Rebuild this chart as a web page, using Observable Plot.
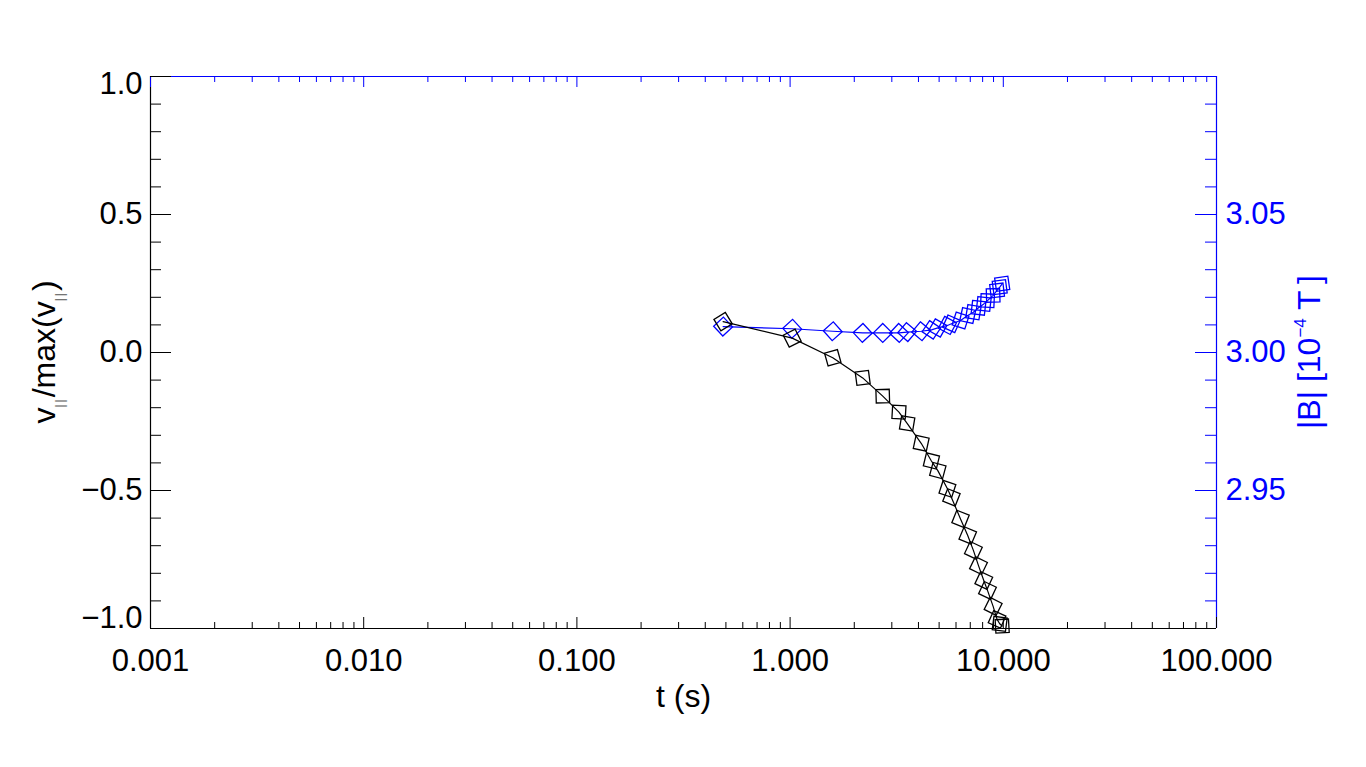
<!DOCTYPE html>
<html><head><meta charset="utf-8">
<script src="https://cdn.jsdelivr.net/npm/d3@7"></script>
<script src="https://cdn.jsdelivr.net/npm/@observablehq/plot@0.6"></script>
<style>
body{margin:0;background:#fff;}
svg{display:block;}
</style>
</head><body><div id="chart"></div>
<script>
// ---- data ----
const tValues = [0.485, 1.023, 1.585, 2.19, 2.72, 3.24, 3.54, 4.12, 4.60, 4.93, 5.47, 5.71, 6.30, 6.81, 7.24, 7.65, 8.10, 8.43, 8.96, 9.35, 9.62, 9.88];
const vRatio  = [0.112, 0.052, -0.019, -0.092, -0.158, -0.216, -0.257, -0.329, -0.393, -0.428, -0.494, -0.525, -0.603, -0.663, -0.717, -0.772, -0.826, -0.862, -0.920, -0.967, -0.983, -0.991];
const bField  = [3.0094, 3.0086, 3.0077, 3.0071, 3.0071, 3.0071, 3.0074, 3.0077, 3.0082, 3.0089, 3.0098, 3.0104, 3.0116, 3.0134, 3.0146, 3.0162, 3.0176, 3.0188, 3.0207, 3.0225, 3.0237, 3.0249];

const xTickValues = [0.001, 0.01, 0.1, 1, 10, 100];
const xTickLabels = ["0.001", "0.010", "0.100", "1.000", "10.000", "100.000"];
const yLeftTicks  = [-1, -0.5, 0, 0.5, 1];
const yLeftLabels = ["\u22121.0", "\u22120.5", "0.0", "0.5", "1.0"];
const yRightTicks = [2.95, 3.00, 3.05];
const yRightLabels = ["2.95", "3.00", "3.05"];
const bDomain = [2.90, 3.10];
const xDomain = [0.001, 100];
const yDomain = [-1, 1];

// ---- layout ----
const W = 1366, H = 767;
const mL = 150, mR = 150, mT = 76, mB = 139;
const frameW = W - mL - mR, frameH = H - mT - mB;
const FONT = "'Liberation Sans', Arial, Helvetica, sans-serif";
const BLUE = "#0000ff";

// map B onto the left y scale (right axis is a secondary axis)
const bToY = b => yDomain[0] + (b - bDomain[0]) / (bDomain[1] - bDomain[0]) * (yDomain[1] - yDomain[0]);

// minor ticks
const xMinor = [];
for (let k = -3; k <= 1; k++) for (let m = 2; m <= 9; m++) xMinor.push(m * Math.pow(10, k));
const yLeftMinor = d3.range(-9, 10).map(i => i / 10).filter(v => Math.abs(v * 2 - Math.round(v * 2)) > 1e-6);
const yRightMinor = d3.range(291, 310).map(i => i / 100).filter(b => Math.abs(b * 20 - Math.round(b * 20)) > 1e-6);

// symbol orientation follows the local direction of each curve (screen space)
const Xs = d3.scaleLog().domain(xDomain).range([mL, W - mR]);
const Ys = d3.scaleLinear().domain(yDomain).range([H - mB, mT]);
function angles(ys) {
  return tValues.map((t, i) => {
    const a = Math.max(0, i - 1), b = Math.min(tValues.length - 1, i + 1);
    const dx = Xs(tValues[b]) - Xs(tValues[a]);
    const dy = Ys(ys[b]) - Ys(ys[a]);
    return Math.atan2(dy, dx) * 180 / Math.PI;
  });
}
const rotV = angles(vRatio);
const rotB = angles(bField.map(bToY));

const rows = tValues.map((t, i) => ({t, v: vRatio[i], b: bField[i], rv: rotV[i], rb: rotB[i]}));

const plot = Plot.plot({
  width: W, height: H,
  marginLeft: mL, marginRight: mR, marginTop: mT, marginBottom: mB,
  style: {fontFamily: FONT, fontSize: "31px", background: "#fff", color: "black"},
  x: {type: "log", domain: xDomain, axis: null},
  y: {type: "linear", domain: yDomain, axis: null},
  marks: [
    // frame: left & bottom black, top & right blue
    Plot.ruleX([xDomain[0]], {stroke: "black", strokeWidth: 1.2}),
    Plot.ruleY([yDomain[0]], {stroke: "black", strokeWidth: 1.2}),
    Plot.ruleY([yDomain[1]], {stroke: BLUE, strokeWidth: 1.2}),
    Plot.ruleX([xDomain[1]], {stroke: BLUE, strokeWidth: 1.2}),
    // bottom ticks
    Plot.tickX(xTickValues, {x: d => d, insetTop: frameH - 11, stroke: "black"}),
    Plot.tickX(xMinor, {x: d => d, insetTop: frameH - 6, stroke: "black"}),
    // top ticks (blue)
    Plot.tickX(xTickValues, {x: d => d, insetBottom: frameH - 11, stroke: BLUE}),
    Plot.tickX(xMinor, {x: d => d, insetBottom: frameH - 6, stroke: BLUE}),
    // left ticks
    Plot.tickY(yLeftTicks, {y: d => d, insetRight: frameW - 21, stroke: "black"}),
    Plot.tickY(yLeftMinor, {y: d => d, insetRight: frameW - 11, stroke: "black"}),
    // right ticks (blue)
    Plot.tickY(yRightTicks, {y: d => bToY(d), insetLeft: frameW - 21, stroke: BLUE}),
    Plot.tickY(yRightMinor, {y: d => bToY(d), insetLeft: frameW - 11, stroke: BLUE}),
    // x tick labels
    Plot.text(xTickValues, {x: d => d, text: (d, i) => xTickLabels[i], frameAnchor: "bottom", dy: 20, lineAnchor: "top", fontSize: 31, fill: "black"}),
    // left tick labels (end labels pulled inside)
    Plot.text(yLeftTicks.slice(1, -1), {y: d => d, text: (d, i) => yLeftLabels[i + 1], frameAnchor: "left", dx: -8, textAnchor: "end", lineAnchor: "middle", fontSize: 31, fill: "black"}),
    Plot.text([yLeftTicks[yLeftTicks.length - 1]], {y: d => d, text: [yLeftLabels[yLeftLabels.length - 1]], frameAnchor: "left", dx: -8, dy: 8, textAnchor: "end", lineAnchor: "middle", fontSize: 31, fill: "black"}),
    Plot.text([yLeftTicks[0]], {y: d => d, text: [yLeftLabels[0]], frameAnchor: "left", dx: -8, dy: -10, textAnchor: "end", lineAnchor: "middle", fontSize: 31, fill: "black"}),
    // right tick labels
    Plot.text(yRightTicks, {y: d => bToY(d), text: (d, i) => yRightLabels[i], frameAnchor: "right", dx: 9, textAnchor: "start", lineAnchor: "middle", fontSize: 31, fill: BLUE}),
    // x title
    Plot.text(["t (s)"], {text: d => d, frameAnchor: "bottom", dy: 78, lineAnchor: "bottom", fontSize: 32, fill: "black"}),
    // data: |B| (blue)
    Plot.line(rows, {x: "t", y: d => bToY(d.b), stroke: BLUE, strokeWidth: 1.2}),
    Plot.dot(rows, {x: "t", y: d => bToY(d.b), symbol: "diamond2", r: 8.5, stroke: BLUE, strokeWidth: 1.3, fill: "none", rotate: "rb"}),
    // data: v/max(v) (black)
    Plot.line(rows, {x: "t", y: "v", stroke: "black", strokeWidth: 1.2}),
    Plot.dot(rows, {x: "t", y: "v", symbol: "diamond2", r: 8.5, stroke: "black", strokeWidth: 1.3, fill: "none", rotate: "rv"})
  ]
});

document.getElementById("chart").appendChild(plot);

// axis titles with sub/superscripts
const svg = d3.select(plot);
const lt = svg.append("text")
  .attr("transform", `translate(55,${mT + frameH / 2}) rotate(-90)`)
  .attr("text-anchor", "middle")
  .attr("font-family", FONT).attr("font-size", 32).attr("fill", "black");
lt.append("tspan").text("v");
lt.append("tspan").attr("font-size", 12).attr("dy", 9).attr("letter-spacing", 2).attr("fill", "#555").text("||");
lt.append("tspan").attr("dy", -9).text("/max(v");
lt.append("tspan").attr("font-size", 12).attr("dy", 9).attr("letter-spacing", 2).attr("fill", "#555").text("||");
lt.append("tspan").attr("dy", -9).text(")");

const rt = svg.append("text")
  .attr("transform", `translate(1320,${mT + frameH / 2}) rotate(-90)`)
  .attr("text-anchor", "middle")
  .attr("font-family", FONT).attr("font-size", 32).attr("fill", BLUE);
rt.append("tspan").text("|B| [10");
rt.append("tspan").attr("font-size", 17).attr("dy", -14).text("\u22124");
rt.append("tspan").attr("dy", 14).text(" T\u2009]");
</script>
</body></html>
